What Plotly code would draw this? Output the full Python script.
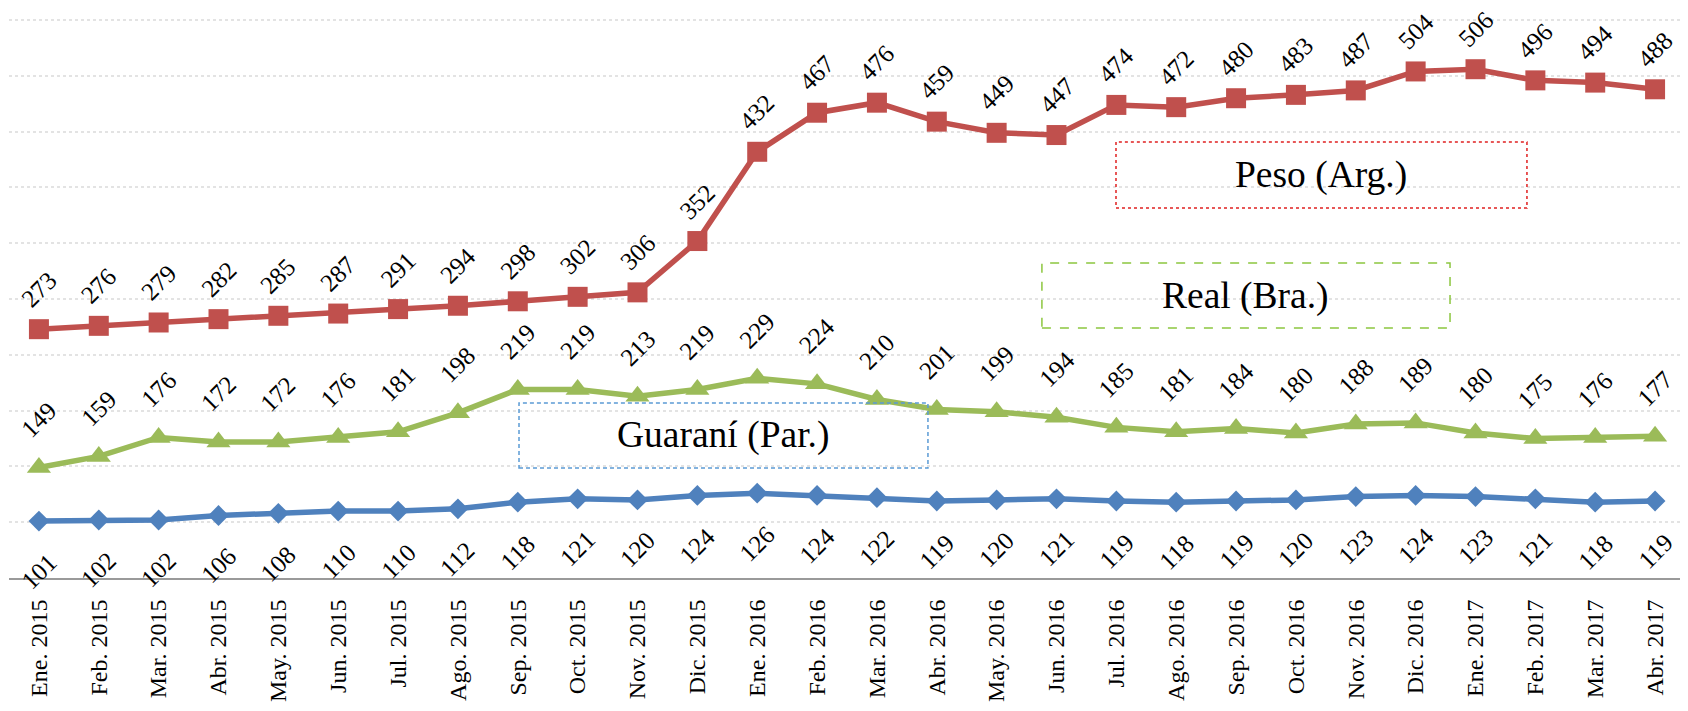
import plotly.graph_objects as go

months = ["Ene. 2015", "Feb. 2015", "Mar. 2015", "Abr. 2015", "May. 2015", "Jun. 2015",
          "Jul. 2015", "Ago. 2015", "Sep. 2015", "Oct. 2015", "Nov. 2015", "Dic. 2015",
          "Ene. 2016", "Feb. 2016", "Mar. 2016", "Abr. 2016", "May. 2016", "Jun. 2016",
          "Jul. 2016", "Ago. 2016", "Sep. 2016", "Oct. 2016", "Nov. 2016", "Dic. 2016",
          "Ene. 2017", "Feb. 2017", "Mar. 2017", "Abr. 2017"]

peso_arg = [273, 276, 279, 282, 285, 287, 291, 294, 298, 302, 306, 352,
            432, 467, 476, 459, 449, 447, 474, 472, 480, 483, 487, 504,
            506, 496, 494, 488]

real_bra = [149, 159, 176, 172, 172, 176, 181, 198, 219, 219, 213, 219,
            229, 224, 210, 201, 199, 194, 185, 181, 184, 180, 188, 189,
            180, 175, 176, 177]

guarani_par = [101, 102, 102, 106, 108, 110, 110, 112, 118, 121, 120, 124,
               126, 124, 122, 119, 120, 121, 119, 118, 119, 120, 123, 124,
               123, 121, 118, 119]

series_names = ["Peso (Arg.)", "Real (Bra.)", "Guaraní (Par.)"]

FONT = "Times New Roman, Liberation Serif, serif"
RED = "#C0504D"
GREEN = "#9BBB59"
BLUE = "#4F81BD"

fig = go.Figure()

fig.add_trace(go.Scatter(x=months, y=guarani_par, mode="lines+markers", name=series_names[2],
                         line=dict(color=BLUE, width=5.5),
                         marker=dict(symbol="diamond", size=16, color=BLUE)))
fig.add_trace(go.Scatter(x=months, y=real_bra, mode="lines+markers", name=series_names[1],
                         line=dict(color=GREEN, width=5.5),
                         marker=dict(symbol="triangle-up", size=21, color=GREEN)))
fig.add_trace(go.Scatter(x=months, y=peso_arg, mode="lines+markers", name=series_names[0],
                         line=dict(color=RED, width=5.5),
                         marker=dict(symbol="square", size=20, color=RED)))

annotations = []
for vals, shift in ((peso_arg, 40), (real_bra, 48), (guarani_par, -50)):
    for m, v in zip(months, vals):
        annotations.append(dict(x=m, y=v, xref="x", yref="y", text=str(v),
                                showarrow=False, textangle=-45, yshift=shift,
                                xanchor="center", yanchor="middle", borderpad=0,
                                font=dict(family=FONT, size=25, color="black")))

# label boxes (paper coordinates)
boxes = [
    (series_names[0], 0.6605, 0.9057, 0.662, 0.780, "#E02020", "dot"),
    (series_names[1], 0.6163, 0.8598, 0.4472, 0.5635, "#8CC63F", "dash"),
    (series_names[2], 0.3043, 0.5483, 0.1968, 0.3131, "#5B9BD5", "4px,3px"),
]
shapes = []
for name, x0, x1, y0, y1, col, dash in boxes:
    shapes.append(dict(type="rect", xref="paper", yref="paper", x0=x0, x1=x1, y0=y0, y1=y1,
                       line=dict(color=col, width=1.5, dash=dash), fillcolor="rgba(0,0,0,0)"))
    annotations.append(dict(x=(x0 + x1) / 2, y=(y0 + y1) / 2, xref="paper", yref="paper",
                            text=name, showarrow=False, xanchor="center", yanchor="middle",
                            font=dict(family=FONT, size=37.5, color="black")))

fig.update_layout(
    width=1680, height=695,
    margin=dict(l=1, r=3, t=11, b=125, autoexpand=False),
    paper_bgcolor="white", plot_bgcolor="white",
    showlegend=False,
    annotations=annotations,
    shapes=shapes,
    xaxis=dict(type="category", range=[-0.5, len(months) - 0.5], tickangle=-90,
               showgrid=False, zeroline=False,
               showline=True, linecolor="#9A9A9A", linewidth=2, ticks="",
               ticklabelstandoff=10, automargin=False,
               tickfont=dict(family=FONT, size=24, color="black")),
    yaxis=dict(range=[50, 551], dtick=50, showticklabels=False, showgrid=True,
               gridcolor="#E3E3E3", gridwidth=1.5, griddash="dot", zeroline=False,
               showline=False, ticks="", automargin=False),
)

fig.write_html("out.html")
